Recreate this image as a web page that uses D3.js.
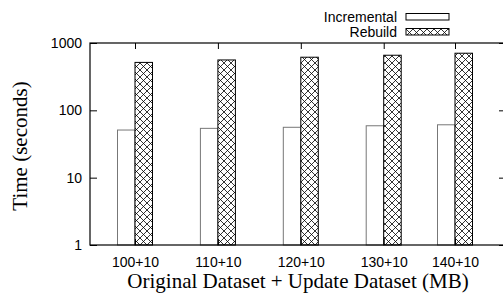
<!DOCTYPE html>
<html>
<head>
<meta charset="utf-8">
<script src="https://cdn.jsdelivr.net/npm/d3@7"></script>
<style>
  body { margin: 0; background: #fff; }
  svg { display: block; }
  .tick text { font-family: "Liberation Sans", Arial, sans-serif; font-size: 14px; }
  .title { font-family: "Liberation Serif", "Times New Roman", serif; font-size: 21px; }
  .legend text { font-family: "Liberation Sans", Arial, sans-serif; font-size: 14px; }
</style>
</head>
<body>
<div id="chart"></div>
<script>
const categories = ["100+10", "110+10", "120+10", "130+10", "140+10"];
// slot positions (last group sits closer)
const slots = [0, 1, 2, 3, 3.86];
const incremental = [51, 54, 56, 59, 61];
const rebuild = [515, 560, 615, 658, 705];
const yTicks = [1, 10, 100, 1000];

const width = 503;
const height = 293;
const plotLeft = 90, plotRight = 506, plotTop = 43, plotBottom = 245;
const barWidth = 17.5;

const svg = d3.select("#chart")
    .append("svg")
    .attr("width", width)
    .attr("height", height);

const defs = svg.append("defs");
const pattern = defs.append("pattern")
    .attr("id", "hatch")
    .attr("patternUnits", "userSpaceOnUse")
    .attr("width", 7)
    .attr("height", 7);
pattern.append("rect").attr("width", 7).attr("height", 7).attr("fill", "#fff");
pattern.append("path")
    .attr("d", "M0,0L7,7M7,0L0,7")
    .attr("stroke", "#000")
    .attr("stroke-width", 0.8);

const scaleX = d3.scaleLinear()
    .domain([0, 3.86])
    .range([135, 455]);

const scaleY = d3.scaleLog()
    .domain([1, 1000])
    .range([plotBottom, plotTop]);

// bars
const groups = svg.selectAll(".group")
    .data(categories)
    .enter()
    .append("g")
    .attr("class", "group");

groups.append("rect")
    .attr("x", (d, i) => scaleX(slots[i]) - barWidth)
    .attr("y", (d, i) => scaleY(incremental[i]))
    .attr("width", barWidth)
    .attr("height", (d, i) => plotBottom - scaleY(incremental[i]))
    .attr("fill", "#fff")
    .attr("stroke", "#777")
    .attr("stroke-width", 1);

groups.append("rect")
    .attr("x", (d, i) => scaleX(slots[i]))
    .attr("y", (d, i) => scaleY(rebuild[i]))
    .attr("width", barWidth)
    .attr("height", (d, i) => plotBottom - scaleY(rebuild[i]))
    .attr("fill", "url(#hatch)")
    .attr("stroke", "#000")
    .attr("stroke-width", 1);

// axes
const yAxis = d3.axisLeft(scaleY)
    .tickValues(yTicks)
    .tickFormat(d3.format("d"))
    .tickSizeInner(-7)
    .tickSizeOuter(0)
    .tickPadding(8);
svg.append("g")
    .attr("transform", `translate(${plotLeft}, 0)`)
    .call(yAxis)
    .call(g => g.select(".domain").remove());

const yAxisRight = d3.axisRight(scaleY)
    .tickValues(yTicks)
    .tickFormat("")
    .tickSizeInner(-7)
    .tickSizeOuter(0);
svg.append("g")
    .attr("transform", `translate(${plotRight}, 0)`)
    .call(yAxisRight)
    .call(g => g.select(".domain").remove());

const xAxis = d3.axisBottom(scaleX)
    .tickValues(slots)
    .tickFormat((d, i) => categories[i])
    .tickSizeInner(-6)
    .tickSizeOuter(0)
    .tickPadding(12);
svg.append("g")
    .attr("transform", `translate(0, ${plotBottom})`)
    .call(xAxis)
    .call(g => g.select(".domain").remove());

const xAxisTop = d3.axisTop(scaleX)
    .tickValues(slots)
    .tickFormat("")
    .tickSizeInner(-6)
    .tickSizeOuter(0);
svg.append("g")
    .attr("transform", `translate(0, ${plotTop})`)
    .call(xAxisTop)
    .call(g => g.select(".domain").remove());

svg.selectAll(".tick line").attr("stroke", "#000");

// frame
svg.append("rect")
    .attr("x", plotLeft)
    .attr("y", plotTop)
    .attr("width", plotRight - plotLeft)
    .attr("height", plotBottom - plotTop)
    .attr("fill", "none")
    .attr("stroke", "#000")
    .attr("stroke-width", 1.2);

// titles
svg.append("text")
    .attr("class", "title")
    .attr("transform", `translate(27, 146) rotate(-90)`)
    .attr("text-anchor", "middle")
    .text("Time (seconds)");

svg.append("text")
    .attr("class", "title")
    .attr("x", 298)
    .attr("y", 288)
    .attr("text-anchor", "middle")
    .text("Original Dataset + Update Dataset (MB)");

// legend
const legendNames = ["Incremental", "Rebuild"];
const legendFill = ["#fff", "url(#hatch)"];
const legend = svg.append("g").attr("class", "legend");
legendNames.forEach((name, i) => {
    const g = legend.append("g").attr("transform", `translate(0, ${i * 15})`);
    g.append("text")
        .attr("x", 397)
        .attr("y", 21.5)
        .attr("text-anchor", "end")
        .text(name);
    g.append("rect")
        .attr("x", 406)
        .attr("y", 13.5)
        .attr("width", 43)
        .attr("height", 6.5)
        .attr("fill", legendFill[i])
        .attr("stroke", "#000")
        .attr("stroke-width", 1);
});
</script>
</body>
</html>
